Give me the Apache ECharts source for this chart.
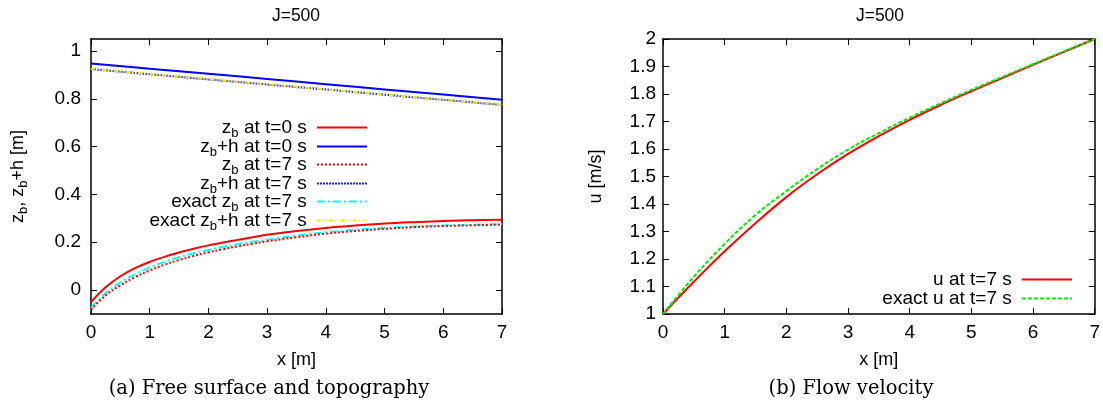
<!DOCTYPE html>
<html><head><meta charset="utf-8">
<script src="https://cdn.jsdelivr.net/npm/echarts@6/dist/echarts.min.js"></script>
<style>html,body{margin:0;padding:0;background:#fff}#c{width:1103px;height:406px}</style>
</head><body><div id="c"></div>
<script>
// ---- data ----
const xBed = [0, 0.25, 0.5, 0.75, 1, 1.25, 1.5, 1.75, 2, 2.25, 2.5, 2.75, 3, 3.5, 4, 4.5, 5, 5.5, 6, 6.5, 7];
const zbT0 = [-0.050, 0.012, 0.058, 0.092, 0.118, 0.139, 0.157, 0.173, 0.187, 0.199, 0.210, 0.221, 0.231, 0.247, 0.260, 0.270, 0.278, 0.284, 0.289, 0.292, 0.294];
const zbT7 = [-0.082, -0.022, 0.020, 0.054, 0.082, 0.106, 0.126, 0.143, 0.158, 0.171, 0.183, 0.194, 0.204, 0.221, 0.236, 0.247, 0.256, 0.263, 0.268, 0.271, 0.274];
const zbExactT7 = [-0.074, -0.012, 0.032, 0.066, 0.095, 0.118, 0.138, 0.154, 0.168, 0.181, 0.192, 0.202, 0.211, 0.228, 0.242, 0.252, 0.260, 0.266, 0.270, 0.273, 0.276];
const xSurf = [0, 1, 2, 3, 4, 5, 6, 7];
const surfT0 = [0.948, 0.926, 0.905, 0.883, 0.861, 0.839, 0.818, 0.796];
const surfT7 = [0.924, 0.903, 0.881, 0.860, 0.839, 0.817, 0.796, 0.774];
const surfExactT7 = [0.925, 0.904, 0.882, 0.861, 0.839, 0.818, 0.796, 0.775];
const xVel = [0, 0.5, 1, 1.5, 2, 2.5, 3, 3.5, 4, 4.5, 5, 5.5, 6, 6.5, 7];
const uT7 = [1.0, 1.117, 1.228, 1.330, 1.425, 1.508, 1.582, 1.647, 1.706, 1.760, 1.810, 1.858, 1.906, 1.953, 2.0];
const uExactT7 = [1.0, 1.135, 1.255, 1.360, 1.447, 1.527, 1.598, 1.658, 1.714, 1.766, 1.815, 1.862, 1.909, 1.955, 2.0];
const leftYTicks = [0, 0.2, 0.4, 0.6, 0.8, 1];

const names = {
  zb0: 'z_b at t=0 s', s0: 'z_b+h at t=0 s', zb7: 'z_b at t=7 s', s7: 'z_b+h at t=7 s',
  zbe: 'exact z_b at t=7 s', se: 'exact z_b+h at t=7 s', u: 'u at t=7 s', ue: 'exact u at t=7 s'
};

const pairs = (xs, ys) => xs.map((x, i) => [x, ys[i]]);
const FONT = 'Liberation Sans';
const TICK = 19;
const rich = {
  m: { fontSize: 19, lineHeight: 24, color: '#000', fontFamily: FONT },
  s: { fontSize: 13, lineHeight: 12, verticalAlign: 'bottom', color: '#000', fontFamily: FONT }
};
const richName = {
  m: { fontSize: 18, lineHeight: 24, color: '#000', fontFamily: FONT },
  s: { fontSize: 13, lineHeight: 12, verticalAlign: 'bottom', color: '#000', fontFamily: FONT }
};
const toRich = (str) => '{m|' + str.split('_b').join('}{s|b}{m|') + '}';

const axisLineStyle = { color: '#000', width: 1.5 };
function xAx(grid, top, showLabel) {
  return {
    gridIndex: grid, type: 'value', min: 0, max: 7, interval: 1,
    position: top ? 'top' : 'bottom',
    name: showLabel ? 'x [m]' : '', nameLocation: 'middle', nameGap: 37,
    nameTextStyle: { fontSize: 18, color: '#000', fontFamily: FONT },
    axisLine: { show: true, onZero: false, lineStyle: axisLineStyle },
    axisTick: { show: true, inside: true, length: 6, lineStyle: { color: '#000', width: 1 } },
    axisLabel: { show: showLabel, fontSize: TICK, color: '#000', fontFamily: FONT, margin: 9 },
    splitLine: { show: false }
  };
}

function lineSeries(name, xs, ys, color, type, xi, yi, z) {
  return {
    name, type: 'line', xAxisIndex: xi, yAxisIndex: yi, data: pairs(xs, ys),
    smooth: 0.4, symbol: 'none', showSymbol: false, z: z,
    lineStyle: { color, width: 2, type: type, cap: 'butt' },
    itemStyle: { color }
  };
}

function legendItem(name, centerY, rightPx) {
  return {
    data: [name], orient: 'vertical', align: 'right', right: rightPx, top: centerY - 12,
    padding: 0, itemWidth: 50, itemHeight: 14, selectedMode: false,
    itemStyle: { opacity: 0 },
    formatter: (n) => toRich(n + ' '),
    textStyle: { rich: rich, color: '#000' }
  };
}

const titleStyle = { fontSize: 17.5, fontWeight: 'normal', color: '#000', fontFamily: FONT };
const capStyle = { fontSize: 19.5, fontWeight: 'normal', color: '#000', fontFamily: 'DejaVu Serif' };

const chart = echarts.init(document.getElementById('c'));
chart.setOption({
  animation: false,
  backgroundColor: '#fff',
  textStyle: { fontFamily: FONT },
  title: [
    { text: 'J=500', left: 291, top: 2, textAlign: 'center', textStyle: titleStyle },
    { text: 'J=500', left: 875, top: 2, textAlign: 'center', textStyle: titleStyle },
    { text: '(a) Free surface and topography', left: 264, top: 374, textAlign: 'center', textStyle: capStyle },
    { text: '(b) Flow velocity', left: 846, top: 374, textAlign: 'center', textStyle: capStyle }
  ],
  grid: [
    { left: 91, top: 39, width: 411, height: 275, containLabel: false },
    { left: 663, top: 39, width: 434, height: 275, containLabel: false }
  ],
  xAxis: [xAx(0, false, true), xAx(0, true, false), xAx(1, false, true), xAx(1, true, false)],
  yAxis: [
    {
      gridIndex: 0, type: 'value', min: -0.1, max: 1.05, position: 'left',
      name: toRich('z_b, z_b+h [m]'), nameLocation: 'middle', nameGap: 61,
      nameTextStyle: { rich: richName },
      axisLine: { show: true, onZero: false, lineStyle: axisLineStyle },
      axisTick: { show: true, inside: true, length: 6, customValues: leftYTicks, lineStyle: { color: '#000' } },
      axisLabel: { show: true, customValues: leftYTicks, fontSize: TICK, color: '#000', fontFamily: FONT, margin: 10 },
      splitLine: { show: false }
    },
    {
      gridIndex: 0, type: 'value', min: -0.1, max: 1.05, position: 'right',
      axisLine: { show: true, onZero: false, lineStyle: axisLineStyle },
      axisTick: { show: true, inside: true, length: 6, customValues: leftYTicks, lineStyle: { color: '#000' } },
      axisLabel: { show: false },
      splitLine: { show: false }
    },
    {
      gridIndex: 1, type: 'value', min: 1, max: 2, interval: 0.1, position: 'left',
      name: 'u [m/s]', nameLocation: 'middle', nameGap: 58,
      nameTextStyle: { fontSize: 18, color: '#000', fontFamily: FONT },
      axisLine: { show: true, onZero: false, lineStyle: axisLineStyle },
      axisTick: { show: true, inside: true, length: 6, lineStyle: { color: '#000' } },
      axisLabel: { show: true, fontSize: TICK, color: '#000', fontFamily: FONT, margin: 7 },
      splitLine: { show: false }
    },
    {
      gridIndex: 1, type: 'value', min: 1, max: 2, interval: 0.1, position: 'right',
      axisLine: { show: true, onZero: false, lineStyle: axisLineStyle },
      axisTick: { show: true, inside: true, length: 6, lineStyle: { color: '#000' } },
      axisLabel: { show: false },
      splitLine: { show: false }
    }
  ],
  legend: [
    legendItem(names.zb0, 130, 735),
    legendItem(names.s0, 149, 735),
    legendItem(names.zb7, 167, 735),
    legendItem(names.s7, 186, 735),
    legendItem(names.zbe, 204, 735),
    legendItem(names.se, 223, 735),
    legendItem(names.u, 282, 30),
    legendItem(names.ue, 301, 30)
  ],
  series: [
    lineSeries(names.zb0, xBed, zbT0, '#ff0000', 'solid', 0, 0, 6),
    lineSeries(names.s0, xSurf, surfT0, '#0000ff', 'solid', 0, 0, 6),
    lineSeries(names.zb7, xBed, zbT7, '#ff0000', [2, 2], 0, 0, 5),
    lineSeries(names.s7, xSurf, surfT7, '#1a1aff', [2, 1], 0, 0, 4),
    lineSeries(names.zbe, xBed, zbExactT7, '#00ffff', [8, 3, 2, 3], 0, 0, 4),
    lineSeries(names.se, xSurf, surfExactT7, '#eeee00', [4, 2, 1, 2, 1, 2], 0, 0, 5),
    lineSeries(names.u, xVel, uT7, '#ff0000', 'solid', 2, 2, 4),
    lineSeries(names.ue, xVel, uExactT7, '#00ee00', [4, 2], 2, 2, 5)
  ]
});
</script>
</body></html>
